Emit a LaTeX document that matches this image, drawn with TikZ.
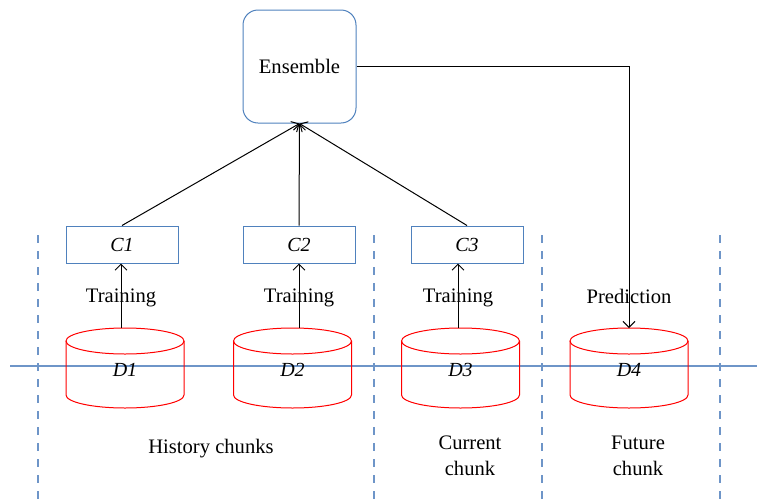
\documentclass[tikz,border=0pt]{standalone}
\usepackage{fontspec}
\setmainfont{Liberation Serif}
\usetikzlibrary{arrows.meta}
\definecolor{boxblue}{RGB}{79,129,189}
\definecolor{lineblue}{RGB}{110,149,200}
\tikzset{every picture/.style={line width=0.5pt}}
\tikzset{
  clf/.style={draw=boxblue, minimum width=56pt, minimum height=18.5pt,
                inner sep=0pt, font=\itshape},
  disk/.style={draw=red, x radius=29.5pt, y radius=6.5pt},
  sep/.style={lineblue, dashed, dash pattern=on 4pt off 4pt, line width=0.6pt},
  lbl/.style={align=center},
}
\def\h{499}

\begin{document}
\begin{tikzpicture}[x=0.5pt, y=-0.5pt, font=\fontsize{10.3}{13}\selectfont,
    >={Straight Barb[length=3pt, width=6pt]}]
  \useasboundingbox (0,0) rectangle (757,\h);
  % time axis and chunk borders
  \draw[lineblue, line width=0.6pt] (10,366) -- (757,366);
  \foreach \x in {38,374,542,720}
    \draw[sep] (\x,235) -- (\x,\h);
  % ensemble and classifiers
  \node[draw=boxblue, rounded corners=7.5pt, minimum size=56.5pt] (ens) at (299.5,66.5) {Ensemble};
  \node[clf] (c1) at (122,244.5) {C1};
  \node[clf] (c2) at (299,244.5) {C2};
  \node[clf] (c3) at (467,244.5) {C3};
  % data chunks | top ellipse at 341, bottom at 395
  \foreach \x [count=\n] in {125,292.5,460.5,629} {
      \draw[disk] (\x,341) ellipse [];
      \draw[disk] (\x-59,341) -- (\x-59,395)
          arc [start angle=180, end angle=360] -- (\x+59,341);
      \node[font=\itshape] (d\n) at (\x,370) {D\n};
  };
  % training and prediction | arrow feet on the top of each chunk
  \foreach \i/\x in {1/121,2/299,3/458,4/629}
    \coordinate (t\i) at (\x,328);
  \foreach \i in {1,2,3}
    \draw[->] (t\i) -- node[lbl, pos=0.46] {Training} (t\i |- c\i.south);
  \foreach \i in {1,2,3}
    \draw[->] (c\i.north) -- (ens.south);
  \draw[->] (ens.east) -| node[lbl, pos=0.94] {Prediction} (t4);
  % chunk names
  \node[lbl] (hist) at (211,449) {History chunks};
  \node[lbl] (cur) at (470,456) {Current\\chunk};
  \node[lbl] (fut) at (638,456) {Future\\chunk};
\end{tikzpicture}
\end{document}
